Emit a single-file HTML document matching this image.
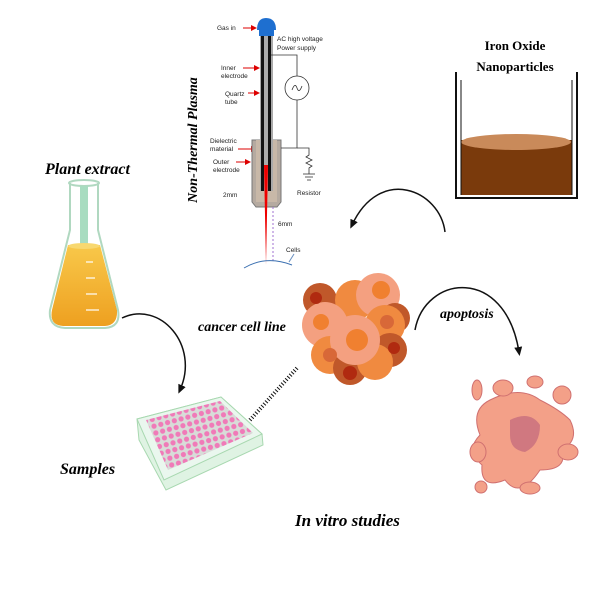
<!DOCTYPE html>
<html><head><meta charset="utf-8"><style>html,body{margin:0;padding:0;background:#fff}svg{display:block}</style></head>
<body>
<svg width="600" height="600" viewBox="0 0 600 600" xmlns="http://www.w3.org/2000/svg" font-family="Liberation Serif, serif">
<defs>
<marker id="ah" markerWidth="10" markerHeight="10" refX="5" refY="5" orient="auto" markerUnits="userSpaceOnUse"><path d="M0,1 L9,5 L0,9 z" fill="#111"/></marker>
<marker id="rh" markerWidth="6" markerHeight="6" refX="5" refY="3" orient="auto" markerUnits="userSpaceOnUse"><path d="M0,0 L6,3 L0,6 z" fill="#d00"/></marker>
<pattern id="wells" width="7" height="7" patternUnits="userSpaceOnUse" patternTransform="rotate(-15)">
<rect width="7" height="7" fill="#d8dcd8"/><circle cx="3.5" cy="3.5" r="2.6" fill="#f07ab8"/>
</pattern>
<linearGradient id="liq" x1="0" y1="0" x2="0" y2="1"><stop offset="0" stop-color="#f8c84a"/><stop offset="1" stop-color="#eea020"/></linearGradient>
</defs>

<!-- Plasma device -->
<text transform="translate(197,140) rotate(-90)" text-anchor="middle" font-size="14" font-weight="bold" font-style="italic">Non-Thermal Plasma</text>
<g font-family="Liberation Sans, sans-serif" font-size="6.5" fill="#222">
<text x="217" y="30">Gas in</text>
<text x="277" y="41">AC high voltage</text>
<text x="277" y="50">Power supply</text>
<text x="221" y="70">Inner</text><text x="221" y="78">electrode</text>
<text x="225" y="96">Quartz</text><text x="225" y="104">tube</text>
<text x="210" y="143">Dielectric</text><text x="210" y="151">material</text>
<text x="213" y="164">Outer</text><text x="213" y="172">electrode</text>
<text x="223" y="197">2mm</text>
<text x="278" y="226">6mm</text>
<text x="286" y="252">Cells</text>
<text x="297" y="195">Resistor</text>
</g>
<g stroke="#d00" stroke-width="1" marker-end="url(#rh)">
<line x1="243" y1="28" x2="256" y2="28"/><line x1="243" y1="68" x2="259" y2="68"/>
<line x1="248" y1="93" x2="259" y2="93"/><line x1="238" y1="149" x2="256" y2="149"/>
<line x1="236" y1="162" x2="250" y2="162"/>
</g>
<path d="M252,140 h29 v62 l-4,5 h-21 l-4,-5 z" fill="#b5aaa0" stroke="#777"/>
<rect x="256" y="140" width="21" height="62" fill="#c8b8a8"/>
<rect x="260" y="26" width="13" height="165" fill="#aaa"/>
<rect x="261" y="26" width="3" height="165" fill="#111"/>
<rect x="268" y="26" width="3" height="165" fill="#111"/>
<path d="M257,30 Q257,18 266,18 Q276,18 276,30 z" fill="#1e6fd0"/>
<rect x="259" y="26" width="15" height="10" fill="#1e6fd0"/>
<path d="M264,165 L268,165 L266,265 z" fill="#e00"/>
<line x1="273" y1="207" x2="273" y2="262" stroke="#a070d0" stroke-dasharray="2,2"/>
<g fill="none" stroke="#333" stroke-width="0.8">
<polyline points="271,55 297,55 297,76"/><circle cx="297" cy="88" r="12"/>
<path d="M292,90 q3,-8 5,-2 q2,6 5,-2"/>
<polyline points="297,100 297,148 281,148"/>
<polyline points="297,148 309,148 309,155 306,157 312,160 306,163 312,166 309,168 309,174"/>
<line x1="303" y1="174" x2="315" y2="174"/><line x1="305" y1="177" x2="313" y2="177"/><line x1="307" y1="180" x2="311" y2="180"/>
</g>
<path d="M244,268 Q266,255 292,265" fill="none" stroke="#3a6fb0"/>
<line x1="289" y1="262" x2="294" y2="254" stroke="#6a90c0"/>

<!-- Beaker -->
<text x="515" y="50" text-anchor="middle" font-size="13" font-weight="bold">Iron Oxide</text>
<text x="515" y="71" text-anchor="middle" font-size="13" font-weight="bold">Nanoparticles</text>
<path d="M461,140 L461,195 L572,195 L572,140 z" fill="#7a3a0c"/>
<ellipse cx="516" cy="142" rx="55" ry="8" fill="#c98a5a"/>
<path d="M456,72 L456,198 L577,198 L577,72" fill="none" stroke="#111" stroke-width="2"/>
<line x1="461" y1="80" x2="461" y2="195" stroke="#111"/>
<line x1="572" y1="80" x2="572" y2="195" stroke="#111"/>

<path d="M445,232 C440,190 380,165 352,225" fill="none" stroke="#111" stroke-width="1.5" marker-end="url(#ah)"/>

<!-- Flask -->
<text x="45" y="174" font-size="16" font-weight="bold" font-style="italic">Plant extract</text>
<path d="M68,245 L100,245 L117,310 Q118,325 105,326 L63,326 Q49,325 52,310 z" fill="url(#liq)"/>
<path d="M70,183 L70,230 L50,310 Q48,327 65,328 L105,328 Q121,327 118,310 L98,230 L98,183" fill="none" stroke="#b0d8c0" stroke-width="2"/>
<ellipse cx="84" cy="183" rx="15" ry="3" fill="none" stroke="#b0d8c0" stroke-width="2"/>
<rect x="80" y="186" width="8" height="58" fill="#a8dcc0"/>
<ellipse cx="84" cy="246" rx="16" ry="3" fill="#f8d870"/>
<g stroke="#fff" stroke-width="1.2"><line x1="86" y1="262" x2="93" y2="262"/><line x1="86" y1="278" x2="95" y2="278"/><line x1="86" y1="294" x2="97" y2="294"/><line x1="86" y1="310" x2="99" y2="310"/></g>

<path d="M122,318 C160,300 200,345 180,390" fill="none" stroke="#111" stroke-width="1.5" marker-end="url(#ah)"/>
<text x="198" y="331" font-size="14" font-weight="bold" font-style="italic">cancer cell line</text>

<!-- Plate -->
<path d="M137,419 L221,397 L262,434 L263,445 L166,490 L139,440 z" fill="#dff3e3" stroke="#a8d8b0"/>
<path d="M137,419 L221,397 L262,434 L164,480 z" fill="#eaf7ee" stroke="#a8d8b0"/>
<path d="M146,420 L220,401 L253,433 L168,470 z" fill="url(#wells)"/>
<text x="60" y="474" font-size="16" font-weight="bold" font-style="italic">Samples</text>
<line x1="250" y1="420" x2="297" y2="368" stroke="#111" stroke-width="4" stroke-dasharray="1,2"/>

<!-- Cancer cells -->
<g>
<circle cx="320" cy="300" r="17" fill="#c0582a"/>
<circle cx="355" cy="300" r="20" fill="#f08a40"/>
<circle cx="378" cy="295" r="22" fill="#f4a080"/>
<circle cx="395" cy="318" r="15" fill="#c0582a"/>
<circle cx="325" cy="325" r="23" fill="#f4a080"/>
<circle cx="385" cy="325" r="20" fill="#f08a40"/>
<circle cx="390" cy="350" r="17" fill="#c0582a"/>
<circle cx="330" cy="355" r="19" fill="#f08a40"/>
<circle cx="350" cy="368" r="17" fill="#c0582a"/>
<circle cx="375" cy="362" r="18" fill="#f08a40"/>
<circle cx="355" cy="340" r="25" fill="#f4a080"/>
<circle cx="357" cy="340" r="11" fill="#f08030"/>
<circle cx="321" cy="322" r="8" fill="#f08030"/>
<circle cx="381" cy="290" r="9" fill="#f08030"/>
<circle cx="387" cy="322" r="7" fill="#d86838"/>
<circle cx="330" cy="355" r="7" fill="#d86838"/>
<circle cx="350" cy="373" r="7" fill="#b02a10"/>
<circle cx="394" cy="348" r="6" fill="#b02a10"/>
<circle cx="316" cy="298" r="6" fill="#b02a10"/>
</g>

<path d="M415,330 C425,275 505,265 519,352" fill="none" stroke="#111" stroke-width="1.5" marker-end="url(#ah)"/>
<text x="440" y="318" font-size="14" font-weight="bold" font-style="italic">apoptosis</text>

<!-- Apoptotic cell -->
<g fill="#f3a088" stroke="#d07070" stroke-width="1">
<path d="M490,400 Q520,385 540,400 Q560,410 570,420 Q580,440 562,450 Q568,470 540,470 Q520,500 505,480 Q480,490 482,465 Q465,450 480,435 Q470,410 490,400 z"/>
<ellipse cx="477" cy="390" rx="5" ry="10"/>
<ellipse cx="503" cy="388" rx="10" ry="8"/>
<ellipse cx="535" cy="382" rx="8" ry="6"/>
<ellipse cx="562" cy="395" rx="9" ry="9"/>
<ellipse cx="478" cy="452" rx="8" ry="10"/>
<ellipse cx="568" cy="452" rx="10" ry="8"/>
<ellipse cx="530" cy="488" rx="10" ry="6"/>
<ellipse cx="481" cy="487" rx="6" ry="6"/>
</g>
<path d="M510,420 Q530,410 540,425 Q540,445 525,452 Q510,450 510,435 z" fill="#d07880"/>

<text x="295" y="526" font-size="17" font-weight="bold" font-style="italic">In vitro studies</text>
</svg>
</body></html>
